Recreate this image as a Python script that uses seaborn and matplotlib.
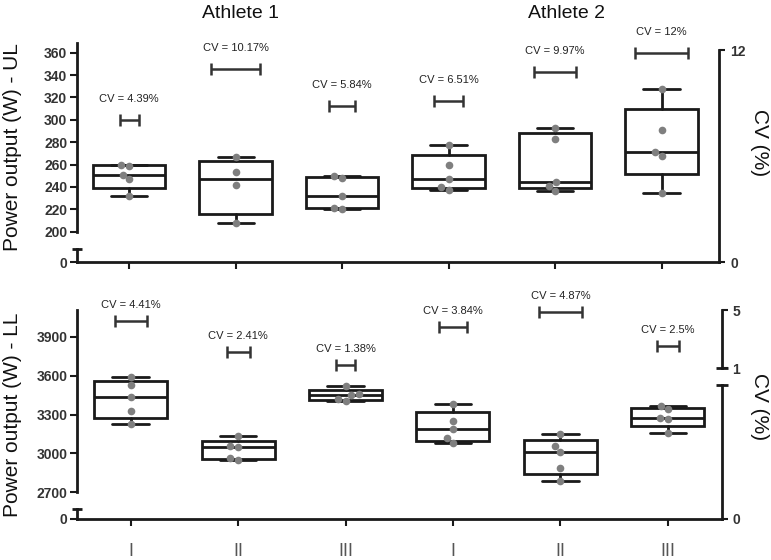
import numpy as np
import pandas as pd
import matplotlib
matplotlib.use("Agg")
import matplotlib.pyplot as plt
import seaborn as sns

# data
groups = ["A1-I", "A1-II", "A1-III", "A2-I", "A2-II", "A2-III"]
tick_labels = ["I", "II", "III", "I", "II", "III"]
athletes = ["Athlete 1", "Athlete 2"]

ul_values = [
    [232, 247, 251, 259, 260],
    [207.5, 241.5, 253, 266.5],
    [220.5, 221.5, 232, 248, 249.5],
    [237.5, 240, 247, 260, 277.5],
    [236.5, 241, 244, 283, 293],
    [235, 268, 271.5, 291, 327.5],
]
ll_values = [
    [3225, 3327, 3437, 3528, 3592],
    [2947, 2965, 3050, 3054, 3134],
    [3406, 3420, 3450, 3456, 3522],
    [3078, 3121, 3190, 3250, 3381],
    [2790, 2890, 3013, 3057, 3150],
    [3155, 3268, 3272, 3340, 3366],
]
ul_cv = [4.39, 10.17, 5.84, 6.51, 9.97, 12]
ll_cv = [4.41, 2.41, 1.38, 3.84, 4.87, 2.5]

# where the CV brackets sit (W units) and their half widths (category units)
ul_cv_y = [300, 345.5, 312, 316.5, 343, 360]
ul_cv_hw = [0.09, 0.23, 0.125, 0.133, 0.2, 0.25]
ll_cv_y = [4023, 3784, 3682, 3977, 4093, 3828]
ll_cv_hw = [0.15, 0.107, 0.087, 0.13, 0.2, 0.105]

sns.set_style("ticks")
plt.rcParams["font.family"] = ["Liberation Sans", "DejaVu Sans"]

W, H = 771, 560
fig = plt.figure(figsize=(W / 100, H / 100), dpi=100)
INK = "#1a1a1a"
TICK = "#333333"


def rect(x0, y0, x1, y1):
    # pixel box (top-left origin) -> figure fraction
    return [x0 / W, 1 - y1 / H, (x1 - x0) / W, (y1 - y0) / H]


def box_stats(vals):
    v = np.asarray(vals, float)
    q1, med, q3 = np.percentile(v, [25, 50, 75], method="weibull")
    return dict(med=med, q1=q1, q3=q3, whislo=v.min(), whishi=v.max(), fliers=[])


def cap(ax, where, width=7):
    ax.plot([0], [where], marker="_", ms=width, mew=2, color=INK,
            transform=ax.transAxes, clip_on=False)


def style_ticks(ax, axis="y"):
    ax.tick_params(axis=axis, length=5, width=1.5, color=INK, pad=2,
                   labelsize=10, labelcolor=TICK)
    for lab in (ax.get_yticklabels() if axis == "y" else ax.get_xticklabels()):
        lab.set_fontweight("bold")


def panel(values, cv, cv_y, cv_hw, y_top, y_low_end, y_break, y_zero, x_right,
          ylim, yticks, xlim, label_gap, show_xlabels):
    ax = fig.add_axes(rect(77, y_top, x_right, y_low_end))
    low = fig.add_axes(rect(77, y_break, x_right, y_zero), sharex=ax)

    stats = [box_stats(v) for v in values]
    lw = 2
    ax.bxp(stats, positions=range(len(groups)), widths=0.68, patch_artist=True,
           showfliers=False, manage_ticks=False,
           boxprops=dict(facecolor="white", edgecolor=INK, linewidth=lw),
           medianprops=dict(color=INK, linewidth=lw),
           whiskerprops=dict(color=INK, linewidth=lw),
           capprops=dict(color=INK, linewidth=lw), zorder=2)

    df = pd.DataFrame({
        "group": [g for g, v in zip(groups, values) for _ in v],
        "power": [p for v in values for p in v],
    })
    sns.swarmplot(data=df, x="group", y="power", order=groups, ax=ax,
                  color="#7f7f7f", size=5.5, zorder=3)

    ax.set_ylim(*ylim)
    ax.set_yticks(yticks)
    ax.set_xlim(*xlim)
    ax.set_xlabel("")
    ax.set_ylabel("")
    ax.patch.set_visible(False)
    for s in ["top", "right", "bottom"]:
        ax.spines[s].set_visible(False)
    ax.spines["left"].set_linewidth(2)
    ax.spines["left"].set_color(INK)
    ax.tick_params(axis="x", bottom=False, labelbottom=False)
    style_ticks(ax, "y")

    # CV brackets
    xs = np.arange(len(groups))
    eb = ax.errorbar(xs, cv_y, xerr=cv_hw, fmt="none", ecolor="#333333",
                     elinewidth=1.8, capsize=4, capthick=1.8, zorder=4)
    for art in eb.get_children():
        art.set_clip_on(False)
    for x, y, c in zip(xs, cv_y, cv):
        ax.annotate(f"CV = {c:g}%", (x, y), xytext=(0, label_gap),
                    textcoords="offset pixels", ha="center", va="center",
                    fontsize=8, color="#222222", annotation_clip=False)

    # lower stub of the broken axis with the zero
    low.set_ylim(0, 1)
    low.set_yticks([0])
    low.patch.set_visible(False)
    for s in ["top", "right"]:
        low.spines[s].set_visible(False)
    for s in ["left", "bottom"]:
        low.spines[s].set_linewidth(2)
        low.spines[s].set_color(INK)
    style_ticks(low, "y")
    cap(low, 1)
    low.set_xticks(xs)
    low.tick_params(axis="x", length=5, width=1.5, color=INK, pad=12,
                    labelsize=13, labelcolor="#555555")
    if show_xlabels:
        low.set_xticklabels(tick_labels)
    else:
        low.tick_params(axis="x", labelbottom=False)
    return ax, low


def right_axis(y0, y1, ylim, yticks, x_right, cap_top=False, cap_bottom=False):
    r = fig.add_axes(rect(77, y0, x_right, y1))
    r.patch.set_visible(False)
    for s in ["top", "left", "bottom"]:
        r.spines[s].set_visible(False)
    r.spines["right"].set_linewidth(2)
    r.spines["right"].set_color(INK)
    r.set_xticks([])
    r.yaxis.tick_right()
    r.set_ylim(*ylim)
    r.set_yticks(yticks)
    style_ticks(r, "y")
    r.tick_params(axis="y", left=False, right=True, labelleft=False, labelright=True,
                  length=4, pad=4)
    for lab in r.get_yticklabels():
        lab.set_fontweight("bold")
    if cap_top:
        r.plot([1], [1], marker="_", ms=8, mew=2, color=INK,
               transform=r.transAxes, clip_on=False)
    if cap_bottom:
        r.plot([1], [0], marker="_", ms=8, mew=2, color=INK,
               transform=r.transAxes, clip_on=False)
    return r


# upper limb panel
panel(ul_values, ul_cv, ul_cv_y, ul_cv_hw, y_top=43, y_low_end=231.7,
      y_break=249, y_zero=262, x_right=719, ylim=(200, 368.7),
      yticks=range(200, 361, 20), xlim=(-0.49, 5.54), label_gap=21,
      show_xlabels=False)
right_axis(50, 262, (0, 12), [0, 12], 719)

# lower limb panel
panel(ll_values, ll_cv, ll_cv_y, ll_cv_hw, y_top=310, y_low_end=492.3,
      y_break=509, y_zero=519, x_right=721.5, ylim=(2700, 4106),
      yticks=range(2700, 3901, 300), xlim=(-0.5, 5.5), label_gap=16,
      show_xlabels=True)
right_axis(310, 368, (1, 5), [1, 5], 721.5, cap_bottom=True)
right_axis(385, 519, (0, 1), [0], 721.5, cap_top=True)

# text around the panels
for name, xc in zip(athletes, [240, 567]):
    fig.text(xc / W, 1 - 14 / H, name, ha="center", va="center", fontsize=14, color="#111111")
fig.text(13 / W, 1 - 147 / H, "Power output (W) - UL", rotation=90,
         ha="center", va="center", fontsize=15, color="#111111")
fig.text(13 / W, 1 - 415 / H, "Power output (W) - LL", rotation=90,
         ha="center", va="center", fontsize=15, color="#111111")
fig.text(760 / W, 1 - 143 / H, "CV (%)", rotation=270,
         ha="center", va="center", fontsize=15, color="#111111")
fig.text(760 / W, 1 - 407 / H, "CV (%)", rotation=270,
         ha="center", va="center", fontsize=15, color="#111111")

fig.savefig("out.png", dpi=100)
